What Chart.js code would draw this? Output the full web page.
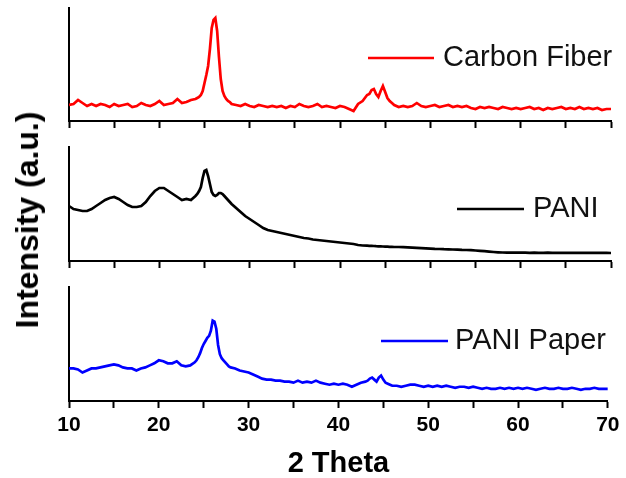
<!DOCTYPE html>
<html>
<head>
<meta charset="utf-8">
<script src="https://cdn.jsdelivr.net/npm/chart.js@4.4.1/dist/chart.umd.min.js"></script>
<style>
  html, body { margin: 0; padding: 0; background: #fff; }
  #wrap { position: relative; width: 626px; height: 478px; overflow: hidden; background: #fff; }
  #wrap canvas { position: absolute; left: 0; top: 0; }
  #ytitle {
    position: absolute; left: 27px; top: 220px;
    transform: translate(-50%, -50%) rotate(-90deg);
    white-space: nowrap; font: bold 32px "Liberation Sans", Arial, sans-serif;
    line-height: 1; color: #000;
  }
</style>
</head>
<body>
<div id="wrap">
  <canvas id="c1" width="626" height="478"></canvas>
  <canvas id="c2" width="626" height="478"></canvas>
  <canvas id="c3" width="626" height="478"></canvas>
  <div id="ytitle">Intensity (a.u.)</div>
</div>
<script>
// 2 Theta sampling positions (degrees)
const angles = [
  10,10.5,11,11.5,12,12.5,13,13.5,14,14.5,15,15.5,16,16.5,17,17.5,18,18.5,19,19.5,20,20.5,21,21.5,22,22.5,23,23.5,24,
  24.2,24.4,24.6,24.8,25,25.2,25.4,25.6,25.8,26,26.2,26.4,26.6,26.8,27,27.2,27.4,27.6,27.8,28,
  28.5,29,29.5,30,30.5,31,31.5,32,32.5,33,33.5,34,34.5,35,35.5,36,36.5,37,37.5,38,38.5,39,39.5,40,40.5,41,41.5,42,42.5,
  43,43.25,43.5,43.75,44,44.25,44.5,44.75,45,45.25,45.5,45.75,46,
  46.5,47,47.5,48,48.5,49,49.5,50,50.5,51,51.5,52,52.5,53,53.5,54,54.5,55,55.5,56,56.5,57,57.5,58,
  58.5,59,59.5,60,60.5,61,61.5,62,62.5,63,63.5,64,64.5,65,65.5,66,66.5,67,67.5,68,68.5,69,69.5,70
];

// Carbon Fiber intensity (a.u.)
const carbonFiber = [
  16,17,21,18,15,17,15,17,16,14,17,15,16,17,14,15,18,16,15,17,20,16,17,18,22,18,19,21,22,
  23,24,26,30,38,46,55,72,93,101,103,90,64,42,30,25,22,20,19,17,
  16,15,17,15,14,16,15,14,15,14,15,13,15,14,17,15,14,15,17,14,15,14,13,15,14,12,10,17,20,
  26,27,31,32,27,24,30,35,29,23,20,18,16,
  14,15,14,15,18,15,14,15,16,14,15,16,14,15,14,15,13,12,14,13,14,13,12,14,
  13,12,13,12,13,14,12,13,11,13,12,13,14,12,13,12,14,12,13,12,13,11,12,12
];

// PANI intensity (a.u.)
const pani = [
  55,52,51,50,50,52,55,58,61,63,64,62,59,56,54,54,55,59,65,70,73,73,70,67,64,61,62,61,65,
  67,70,74,83,90,91,85,77,69,66,65,66,68,68,67,65,63,61,59,57,
  53,49,45,42,39,36,33,31,30,29,28,27,26,25,24,23,22.5,21.5,21,20.5,20,19.5,19,18.5,18,17.5,17,16,15.5,
  15.3,15.2,15.1,15,14.8,14.7,14.6,14.5,14.4,14.3,14.2,14.1,14,
  14,13.8,13.6,13.4,13.2,12.9,12.6,12.3,12.1,12,11.8,11.7,11.5,11.3,11.1,11,10.8,10.5,10.2,9.8,9.4,9,8.7,8.5,
  8.4,8.4,8.3,8.3,8.3,8.2,8.3,8.2,8.2,8.3,8.2,8.2,8.1,8.2,8.2,8.1,8.2,8.2,8.1,8.1,8.2,8.1,8.1,8.0
];

// PANI Paper intensity (a.u.)
const paniPaper = [
  31,31,30,27,29,31,31,32,33,34,35,34,32,31,31,29,31,32,34,36,39,38,36,36,38,34,33,34,37,
  39,42,46,51,55,58,61,63,68,78,77,70,54,45,41,39,37,35,33,32,
  31,29,28,27,25,23,21,20,20,19,19,18,18,17,19,17,18,17,19,17,16,15,16,15,16,15,13,15,17,
  18,19,21,22,20,18,22,24,20,17,16,15,14,
  14,13,14,15,15,14,13,14,13,14,13,14,13,12,13,13,12,13,12,11,12,11,11,12,
  11,12,11,12,11,12,11,10,11,12,11,11,12,11,11,12,11,10,11,11,12,11,11,11
];

const seriesLabels = ['Carbon Fiber', 'PANI', 'PANI Paper'];
const seriesColors = ['#ff0000', '#000000', '#0000ff'];
const xTickLabels = ['10', '20', '30', '40', '50', '60', '70'];
const xTitle = '2 Theta';

const FAMILY = '"Liberation Sans", Arial, sans-serif';

const panelLegend = {
  id: 'panelLegend',
  afterDatasetsDraw(chart, args, opts) {
    const ds = chart.data.datasets[0];
    const ctx = chart.ctx;
    ctx.save();
    ctx.strokeStyle = ds.borderColor;
    ctx.lineWidth = 2.6;
    ctx.beginPath();
    ctx.moveTo(opts.x, opts.y);
    ctx.lineTo(opts.x + opts.len, opts.y);
    ctx.stroke();
    ctx.fillStyle = '#111';
    ctx.font = '29px ' + FAMILY;
    ctx.textBaseline = 'middle';
    ctx.textAlign = 'left';
    ctx.fillText(ds.label, opts.x + opts.len + opts.gap, opts.y);
    ctx.restore();
  }
};

function makePanel(id, idx, values, yMin, yMax, padding, legendPos, isBottom) {
  const pts = angles.map((a, i) => ({ x: a, y: values[i] }));
  return new Chart(document.getElementById(id), {
    type: 'line',
    data: {
      datasets: [{
        label: seriesLabels[idx],
        data: pts,
        borderColor: seriesColors[idx],
        borderWidth: 2.7,
        pointRadius: 0,
        tension: 0,
        fill: false
      }]
    },
    plugins: [panelLegend],
    options: {
      responsive: false,
      animation: false,
      events: [],
      layout: { padding: padding },
      plugins: {
        legend: { display: false },
        tooltip: { enabled: false },
        panelLegend: legendPos
      },
      scales: {
        x: {
          type: 'linear', min: 10, max: 70,
          ticks: {
            display: isBottom,
            stepSize: 5,
            autoSkip: false,
            maxRotation: 0,
            padding: 6.5,
            color: '#000',
            font: { family: FAMILY, size: 21, weight: 'bold', lineHeight: 1 },
            callback: (v) => { const s = String(v); return xTickLabels.includes(s) ? s : ''; }
          },
          grid: { display: true, drawOnChartArea: false, drawTicks: true, tickLength: 7, tickWidth: 2, tickColor: '#000' },
          border: { display: true, width: 2, color: '#000' },
          title: {
            display: isBottom,
            text: xTitle,
            color: '#000',
            font: { family: FAMILY, size: 29, weight: 'bold', lineHeight: 1 },
            padding: { top: 7, bottom: 0 }
          }
        },
        y: {
          min: yMin, max: yMax,
          display: true,
          ticks: { display: false },
          grid: { display: false, drawTicks: false, tickLength: 0 },
          border: { display: true, width: 2, color: '#000' }
        }
      }
    }
  });
}

makePanel('c1', 0, carbonFiber, 0, 113, { left: 69, right: 15, top: 8, bottom: 350 }, { x: 368, y: 58, len: 66, gap: 9 }, false);
makePanel('c2', 1, pani, 0, 114, { left: 69, right: 15, top: 147, bottom: 210 }, { x: 457, y: 209, len: 67, gap: 9 }, false);
makePanel('c3', 2, paniPaper, -1, 111, { left: 69, right: 15, top: 287, bottom: 0 }, { x: 381, y: 341, len: 67, gap: 7 }, true);
</script>
</body>
</html>
